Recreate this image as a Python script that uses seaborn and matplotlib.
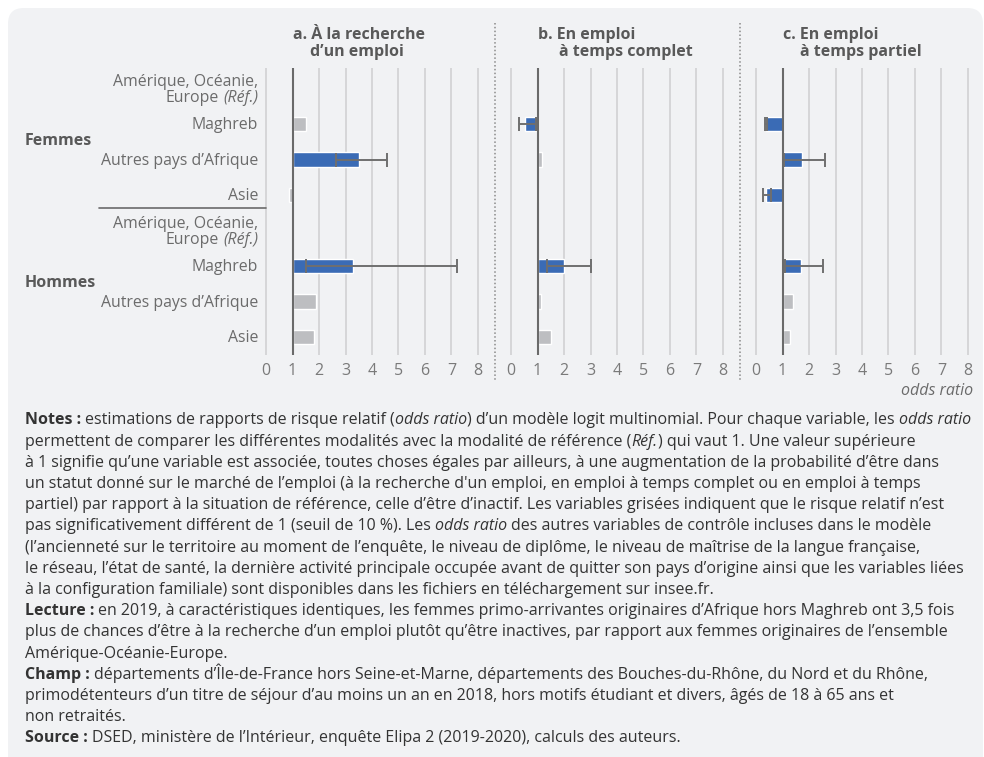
import numpy as np
import matplotlib
matplotlib.use("Agg")
import matplotlib.pyplot as plt
import seaborn as sns
from matplotlib.patches import FancyBboxPatch
from matplotlib.lines import Line2D

nan = np.nan

# --- data -------------------------------------------------------------
sexes = ["Femmes", "Hommes"]
origins = ["Amérique, Océanie, Europe (Réf.)", "Maghreb", "Autres pays d’Afrique", "Asie"]
panel_titles = [("a. À la recherche", "d’un emploi"),
                ("b. En emploi", "à temps complet"),
                ("c. En emploi", "à temps partiel")]
x_ticks = [0, 1, 2, 3, 4, 5, 6, 7, 8]

# rows: Femmes (4 origins) then Hommes (4 origins)
odds_search = [nan, 1.5, 3.5, 0.88, nan, 3.3, 1.88, 1.8]
low_search = [nan, nan, 2.65, nan, nan, 1.5, nan, nan]
high_search = [nan, nan, 4.55, nan, nan, 7.2, nan, nan]
signif_search = [False, False, True, False, False, True, False, False]

odds_full = [nan, 0.53, 1.18, 0.98, nan, 2.0, 1.15, 1.5]
low_full = [nan, 0.31, nan, nan, nan, 1.35, nan, nan]
high_full = [nan, 0.93, nan, nan, nan, 3.02, nan, nan]
signif_full = [False, True, False, False, False, True, False, False]

odds_part = [nan, 0.38, 1.72, 0.38, nan, 1.7, 1.4, 1.3]
low_part = [nan, 0.35, 1.07, 0.28, nan, 1.1, nan, nan]
high_part = [nan, 0.41, 2.61, 0.57, nan, 2.52, nan, nan]
signif_part = [False, True, True, True, False, True, False, False]

# --- style ------------------------------------------------------------
sns.set_theme(style="white")
plt.rcParams["font.family"] = ["Open Sans", "DejaVu Sans"]

W, H = 984, 757
BLUE = "#3a6bb5"
GREY_BAR = "#bdbec1"
BG = "#f1f2f4"
fig = plt.figure(figsize=(W / 100, H / 100), dpi=100, facecolor="white")
renderer = fig.canvas.get_renderer()


def fx(px):
    return px / W


def fy(py):
    return 1 - py / H


bg = FancyBboxPatch((fx(8), fy(775)), fx(983) - fx(8), fy(8) - fy(775),
                    boxstyle="round,pad=0,rounding_size=0.016",
                    transform=fig.transFigure, facecolor=BG, edgecolor="none",
                    zorder=-10, mutation_aspect=W / H)
fig.patches.append(bg)

STYLES = {"n": {}, "b": {"fontweight": "bold"}, "i": {"fontstyle": "italic"}}


def measure(s, props):
    t = fig.text(0, 0, s, **props)
    w = t.get_window_extent(renderer).width
    t.remove()
    return w


def seg_width(s, props):
    core = s.strip(" ")
    lead = len(s) - len(s.lstrip(" "))
    trail = len(s) - len(s.rstrip(" "))
    sp = measure("n n", props) - measure("nn", props)
    w = measure(core, props) if core else 0
    return lead * sp, w, trail * sp


def rich(x, y, parts, ha="left", **common):
    info = []
    total = 0
    for s, st in parts:
        props = {**common, **STYLES[st]}
        a, w, b = seg_width(s, props)
        info.append((s.strip(" "), props, a, w, b))
        total += a + w + b
    if ha == "right":
        x = x - total
    for core, props, a, w, b in info:
        x += a
        if core:
            fig.text(fx(x), fy(y), core, ha="left", va="baseline", **props)
        x += w + b


# --- panels -----------------------------------------------------------
rows = np.arange(8)
row_px0, row_step = 88.5, 35.5
ax_top, ax_bot = 68, 355
panel_left = [264.7, 509.7, 754.7]
panel_w = 214.6
panels = [(odds_search, low_search, high_search, signif_search),
          (odds_full, low_full, high_full, signif_full),
          (odds_part, low_part, high_part, signif_part)]

for k, (odds, lo, hi, sig) in enumerate(panels):
    ax = fig.add_axes([fx(panel_left[k]), fy(ax_bot), panel_w / W, (ax_bot - ax_top) / H])
    ax.set_facecolor("none")
    odds = np.asarray(odds, float)
    lo = np.asarray(lo, float)
    hi = np.asarray(hi, float)
    has = ~np.isnan(odds)
    colors = [BLUE if s else GREY_BAR for s in sig]
    ax.barh(rows[has], odds[has] - 1, left=1, height=0.42,
            color=[c for c, h in zip(colors, has) if h], zorder=3)
    ci = ~np.isnan(lo)
    ax.errorbar(odds[ci], rows[ci], xerr=[odds[ci] - lo[ci], hi[ci] - odds[ci]],
                fmt="none", ecolor="#6f6f6f", elinewidth=1.4, capsize=5,
                capthick=1.4, zorder=4)
    ax.axvline(1, color="#6a6a6a", lw=1.5, zorder=5)
    ax.set_xlim(-0.05, 8.05)
    ax.set_ylim((ax_bot - row_px0) / row_step, (ax_top - row_px0) / row_step)
    ax.set_xticks(x_ticks)
    ax.set_xticklabels([str(t) for t in x_ticks], fontsize=11.5, color="#7a7a7a")
    ax.tick_params(axis="x", length=0, pad=6)
    ax.set_yticks([])
    ax.grid(axis="x", color="#d4d4d6", lw=1.3, zorder=0)
    sns.despine(ax=ax, left=True, bottom=True)

    # title, first line aligned on x = 1
    x1 = panel_left[k] + (1 + 0.05) * panel_w / 8.1
    indent = [17, 21, 17][k]
    fig.text(fx(x1), fy(39), panel_titles[k][0], ha="left", va="baseline",
             fontsize=11.5, fontweight="bold", color="#595959")
    fig.text(fx(x1 + indent), fy(55.5), panel_titles[k][1], ha="left", va="baseline",
             fontsize=11.5, fontweight="bold", color="#595959")

# --- row labels -------------------------------------------------------
LAB = dict(fontsize=11.4, color="#6b6b6b")
for g in range(2):
    for j, name in enumerate(origins):
        ypx = row_px0 + row_step * (4 * g + j)
        if j == 0:
            line1, line2 = name.split(" Europe ")
            rich(258, ypx - 2.5, [(line1, "n")], ha="right", **LAB)
            rich(258, ypx + 13.5, [("Europe ", "n"), (line2, "i")], ha="right", **LAB)
        else:
            rich(258, ypx + 5.3, [(name, "n")], ha="right", **LAB)

fig.text(fx(25), fy(145), sexes[0], ha="left", va="baseline", fontsize=11.5,
         fontweight="bold", color="#595959")
fig.text(fx(25), fy(287), sexes[1], ha="left", va="baseline", fontsize=11.5,
         fontweight="bold", color="#595959")

fig.lines.append(Line2D([fx(99), fx(266)], [fy(208.3), fy(208.3)],
                        transform=fig.transFigure, color="#6a6a6a", lw=1.2))
for xs in (495, 740):
    fig.lines.append(Line2D([fx(xs), fx(xs)], [fy(23), fy(382)],
                            transform=fig.transFigure, color="#8a8a8a", lw=1.1,
                            linestyle=(0, (1, 1.5))))

fig.text(fx(973), fy(395), "odds ratio", ha="right", va="baseline", fontsize=11.5,
         fontstyle="italic", color="#6b6b6b")

# --- notes ------------------------------------------------------------
notes = [
    [("Notes :", "b"), (" estimations de rapports de risque relatif (", "n"), ("odds ratio", "i"),
     (") d’un modèle logit multinomial. Pour chaque variable, les ", "n"), ("odds ratio", "i")],
    [("permettent de comparer les différentes modalités avec la modalité de référence (", "n"),
     ("Réf.", "i"), (") qui vaut 1. Une valeur supérieure", "n")],
    [("à 1 signifie qu’une variable est associée, toutes choses égales par ailleurs, à une augmentation de la probabilité d’être dans", "n")],
    [("un statut donné sur le marché de l’emploi (à la recherche d'un emploi, en emploi à temps complet ou en emploi à temps", "n")],
    [("partiel) par rapport à la situation de référence, celle d’être d’inactif. Les variables grisées indiquent que le risque relatif n’est", "n")],
    [("pas significativement différent de 1 (seuil de 10 %). Les ", "n"), ("odds ratio", "i"),
     (" des autres variables de contrôle incluses dans le modèle", "n")],
    [("(l’ancienneté sur le territoire au moment de l’enquête, le niveau de diplôme, le niveau de maîtrise de la langue française,", "n")],
    [("le réseau, l’état de santé, la dernière activité principale occupée avant de quitter son pays d’origine ainsi que les variables liées", "n")],
    [("à la configuration familiale) sont disponibles dans les fichiers en téléchargement sur insee.fr.", "n")],
    [("Lecture :", "b"), (" en 2019, à caractéristiques identiques, les femmes primo-arrivantes originaires d’Afrique hors Maghreb ont 3,5 fois", "n")],
    [("plus de chances d’être à la recherche d’un emploi plutôt qu’être inactives, par rapport aux femmes originaires de l’ensemble", "n")],
    [("Amérique-Océanie-Europe.", "n")],
    [("Champ :", "b"), (" départements d’Île-de-France hors Seine-et-Marne, départements des Bouches-du-Rhône, du Nord et du Rhône,", "n")],
    [("primodétenteurs d’un titre de séjour d’au moins un an en 2018, hors motifs étudiant et divers, âgés de 18 à 65 ans et", "n")],
    [("non retraités.", "n")],
    [("Source :", "b"), (" DSED, ministère de l’Intérieur, enquête Elipa 2 (2019-2020), calculs des auteurs.", "n")],
]
for i, parts in enumerate(notes):
    rich(25, 424.5 + 21.2 * i, parts, fontsize=11.5, color="#333333")

fig.savefig("out.png", dpi=100, facecolor="white")
